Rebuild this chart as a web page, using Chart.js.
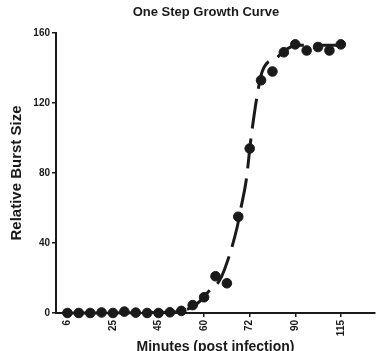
<!DOCTYPE html>
<html>
<head>
<meta charset="utf-8">
<script src="https://cdn.jsdelivr.net/npm/chart.js@4"></script>
<style>
  html, body { margin: 0; padding: 0; background: #fff; overflow: hidden; }
</style>
</head>
<body>
<canvas id="growthChart" width="386" height="358"></canvas>
<script>
// Chart data
const chartTitle = 'One Step Growth Curve';
const tickPositions = [0, 4, 8, 12, 16, 20, 24];
const tickLabels = ['6', '25', '45', '60', '72', '90', '115'];

// measured points (one per sample, evenly spaced)
const pointValues = [0, 0, 0, 0.3, 0, 0.8, 0.2, 0, 0, 0.4, 1.2, 4.5, 9, 21, 17,
    55, 94, 133, 138, 149, 153.5, 150, 152, 150, 153.5];

// fitted curve
const fitX = [0, 9, 10.5, 11.5, 12.5, 13.3, 13.8, 14.9, 15.2, 15.7, 16.1, 16.7, 17.1, 18.4, 19.3, 20.3, 24];
const fitY = [0, 0.5, 2, 6, 13, 18, 25, 49, 59, 76, 99, 126, 138, 146, 151, 153, 153];

const font = '"Liberation Sans", Arial, sans-serif';
const ink = '#1a1a1a';

const titlePlugin = {
    id: 'plainTitle',
    afterDraw(chart) {
        const ctx = chart.ctx;
        ctx.save();
        ctx.font = 'bold 13px ' + font;
        ctx.fillStyle = ink;
        ctx.textAlign = 'center';
        ctx.textBaseline = 'middle';
        ctx.fillText(chartTitle, 206, 12);
        ctx.restore();
    }
};

document.addEventListener('DOMContentLoaded', function() {
    const ctx = document.getElementById('growthChart');
    new Chart(ctx, {
        type: 'scatter',
        data: {
            datasets: [{
                label: 'Fit',
                data: fitX.map((x, i) => ({ x: x, y: fitY[i] })),
                showLine: true,
                borderColor: ink,
                borderWidth: 3,
                borderDash: [30, 10],
                cubicInterpolationMode: 'monotone',
                pointRadius: 0,
                clip: false
            }, {
                label: 'Burst size',
                data: pointValues.map((v, i) => ({ x: i, y: v })),
                backgroundColor: ink,
                borderColor: ink,
                pointRadius: 4.8,
                pointHoverRadius: 4.8,
                clip: false
            }]
        },
        plugins: [titlePlugin],
        options: {
            responsive: false,
            animation: false,
            layout: {
                padding: { top: 33, right: 11, left: 0, bottom: 0 }
            },
            plugins: {
                legend: { display: false },
                tooltip: { enabled: false }
            },
            scales: {
                x: {
                    type: 'linear',
                    min: -1,
                    max: 27,
                    afterBuildTicks: function(scale) {
                        scale.ticks = tickPositions.map(v => ({ value: v }));
                    },
                    afterFit: function(scale) {
                        scale.height = 45;
                    },
                    border: { display: true, color: ink, width: 2 },
                    grid: {
                        drawOnChartArea: false,
                        drawTicks: true,
                        tickLength: 4,
                        color: ink,
                        lineWidth: 1.5
                    },
                    ticks: {
                        autoSkip: false,
                        maxRotation: 90,
                        minRotation: 90,
                        padding: 3,
                        color: ink,
                        font: { family: font, size: 10, weight: 'bold' },
                        callback: function(value) {
                            const k = tickPositions.indexOf(value);
                            return k >= 0 ? tickLabels[k] : '';
                        }
                    },
                    title: {
                        display: true,
                        text: 'Minutes (post infection)',
                        color: ink,
                        padding: { top: 0, bottom: 2 },
                        font: { family: font, size: 14, weight: 'bold' }
                    }
                },
                y: {
                    min: 0,
                    max: 160,
                    afterFit: function(scale) {
                        scale.width = 56;
                    },
                    border: { display: true, color: ink, width: 2 },
                    grid: {
                        drawOnChartArea: false,
                        drawTicks: true,
                        tickLength: 4,
                        color: ink,
                        lineWidth: 1.5
                    },
                    ticks: {
                        stepSize: 40,
                        padding: 2,
                        color: ink,
                        font: { family: font, size: 10, weight: 'bold' }
                    },
                    title: {
                        display: true,
                        text: 'Relative Burst Size',
                        color: ink,
                        padding: { top: 8, bottom: 0 },
                        font: { family: font, size: 15, weight: 'bold' }
                    }
                }
            }
        }
    });
});
</script>
</body>
</html>
